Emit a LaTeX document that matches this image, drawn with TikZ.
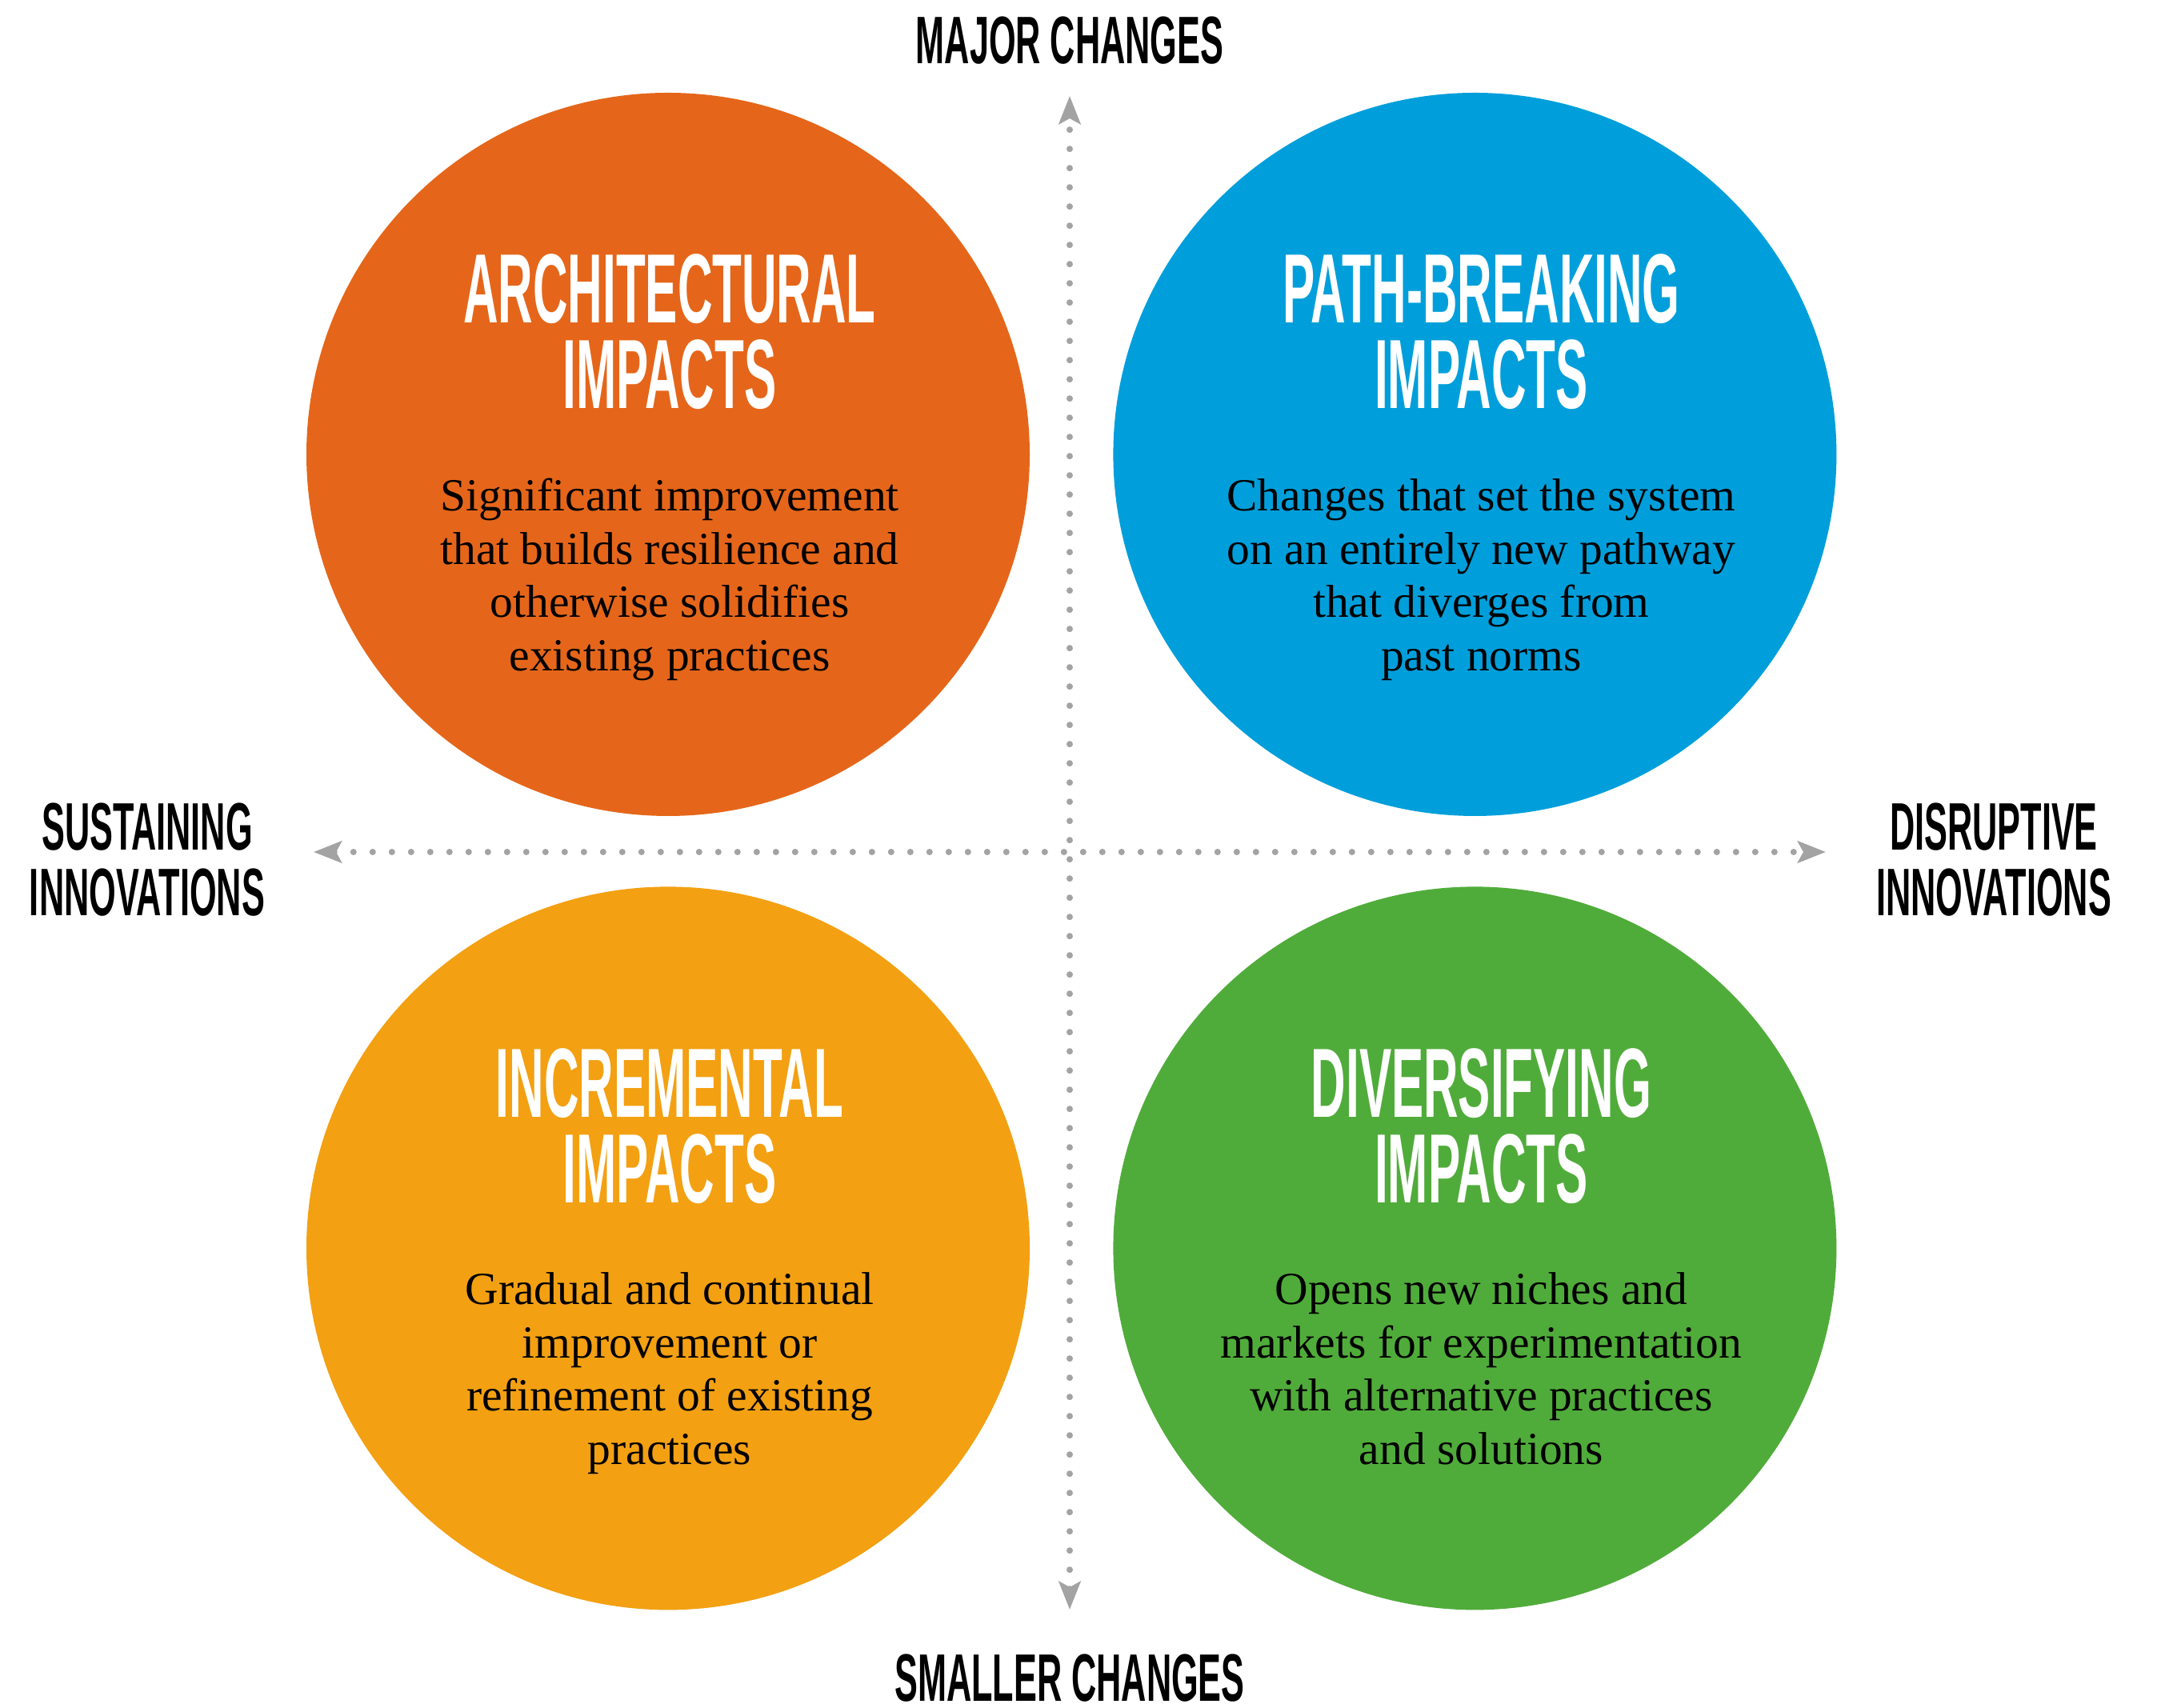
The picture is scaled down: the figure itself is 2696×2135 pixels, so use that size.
\documentclass[tikz,border=0pt]{standalone}
\usepackage{fontspec}
\setmainfont{Liberation Serif}
\newfontfamily\headfont{Liberation Sans Bold}[FakeStretch=0.49]
\newfontfamily\labelfont{Liberation Sans Bold}[FakeStretch=0.515]
\usepackage{tikz}
\usetikzlibrary{arrows.meta, positioning}
\definecolor{BurntOrange}{HTML}{E5661A}
\definecolor{SkyBlue}{HTML}{009FDB}
\definecolor{Marigold}{HTML}{F3A012}
\definecolor{LeafGreen}{HTML}{50AC3A}
\definecolor{DotGrey}{HTML}{A3A3A3}
\tikzset{%
  impact_circle/.style={%
    circle,%
    minimum size=904pt,%
    inner sep=0pt,%
    draw=none%
  },
  impact_title/.style={%
    font={\headfont\fontsize{123}{107}\selectfont},%
    text=white,%
    inner sep=0pt,%
    align=center%
  },
  impact_text/.style={%
    font={\fontsize{57.5}{66.5}\selectfont},%
    text=black,%
    inner sep=0pt,%
    align=center%
  },
  axis_label/.style={%
    font={\labelfont\fontsize{84}{82}\selectfont},%
    text=black,%
    inner sep=0pt,%
    align=center%
  },
  axis_path/.style={%
    draw=DotGrey,%
    line width=8pt,%
    line cap=round,%
    dash pattern=on 0pt off 24pt%
  },
  double_arrow/.style={%
    {Stealth[length=35pt, width=27pt, inset=7pt]}-{Stealth[length=35pt, width=27pt, inset=7pt]}%
  },
}

\begin{document}
\begin{tikzpicture}[x=1pt, y=1pt]

    \fill [white] (0,0) rectangle (2696,2135);
    \useasboundingbox (0,0) rectangle (2696,2135);

    \node [impact_circle, fill=BurntOrange] (Arch) at (835,1567) {};
    \node [impact_circle, fill=SkyBlue, right = 104 of Arch] (Path) {};
    \node [impact_circle, fill=Marigold, below = 88 of Arch] (Incr) {};
    \node [impact_circle, fill=LeafGreen, right = 104 of Incr] (Divr) {};

    \node [impact_title] (ArchTitle) at ([xshift=2pt, yshift=153pt]Arch.center)
      {ARCHITECTURAL\\IMPACTS};
    \node [impact_text] (ArchText) at ([xshift=2pt, yshift=-157pt]Arch.center)
      {\strut Significant improvement\\that builds resilience and\\otherwise solidifies\\existing practices\strut};

    \node [impact_title] (PathTitle) at ([xshift=8pt, yshift=153pt]Path.center)
      {PATH-BREAKING\\IMPACTS};
    \node [impact_text] (PathText) at ([xshift=8pt, yshift=-157pt]Path.center)
      {\strut Changes that set the system\\on an entirely new pathway\\that diverges from\\past norms\strut};

    \node [impact_title] (IncrTitle) at ([xshift=2pt, yshift=153pt]Incr.center)
      {INCREMENTAL\\IMPACTS};
    \node [impact_text] (IncrText) at ([xshift=2pt, yshift=-157pt]Incr.center)
      {\strut Gradual and continual\\improvement or\\refinement of existing\\practices\strut};

    \node [impact_title] (DivrTitle) at ([xshift=8pt, yshift=153pt]Divr.center)
      {DIVERSIFYING\\IMPACTS};
    \node [impact_text] (DivrText) at ([xshift=8pt, yshift=-157pt]Divr.center)
      {\strut Opens new niches and\\markets for experimentation\\with alternative practices\\and solutions\strut};

    % dotted axes
    \coordinate (Major) at (1337,2015);
    \coordinate (Minor) at (1337,123);
    \coordinate (Sustain) at (392,1070);
    \coordinate (Disrupt) at (2282,1070);

    \draw [axis_path, double_arrow]
      (Minor)
      --
      (Major);
    \draw [axis_path, double_arrow]
      (Sustain)
      --
      (Disrupt);

    \node [axis_label] (MajorLabel) at (1337,2084) {MAJOR CHANGES};
    \node [axis_label] (MinorLabel) at (1337,37) {SMALLER CHANGES};
    \node [axis_label] (SustainLabel) at (184,1060) {SUSTAINING\\INNOVATIONS};
    \node [axis_label] (DisruptLabel) at (2492,1060) {DISRUPTIVE\\INNOVATIONS};

  \end{tikzpicture}
\end{document}
